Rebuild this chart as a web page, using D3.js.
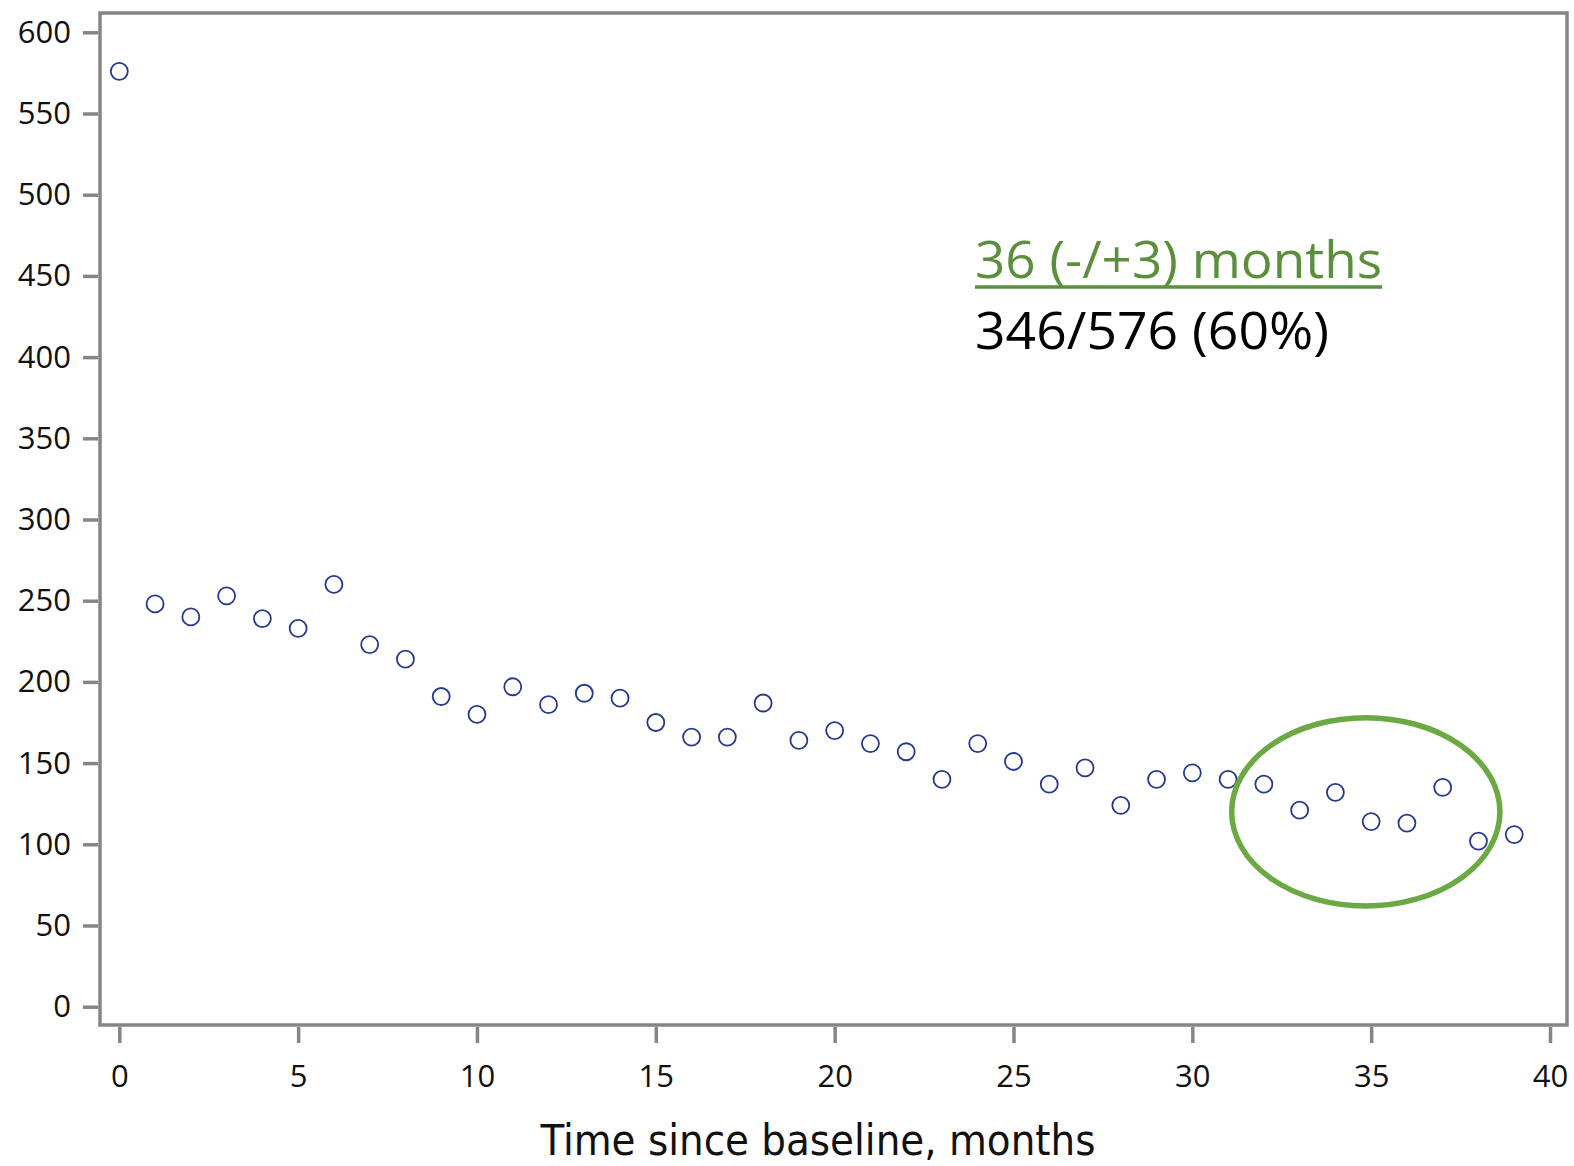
<!DOCTYPE html>
<html>
<head>
<meta charset="utf-8">
<script src="https://cdn.jsdelivr.net/npm/d3@7"></script>
<style>
  html, body { margin: 0; padding: 0; background: #fff; }
  svg { display: block; }
</style>
</head>
<body>
<div id="chart"></div>
<script>
const width = 1574;
const height = 1166;

// months since baseline and the count seen at each
const months = d3.range(0, 40);
const counts = [576, 248, 240, 253, 239, 233, 260, 223, 214, 191,
                180, 197, 186, 193, 190, 175, 166, 166, 187, 164,
                170, 162, 157, 140, 162, 151, 137, 147, 124, 140,
                144, 140, 137, 121, 132, 114, 113, 135, 102, 106];
const xTicks = [0, 5, 10, 15, 20, 25, 30, 35, 40];
const yTicks = d3.range(0, 601, 50);
const noteTitle = '36 (-/+3) months';
const noteText = '346/576 (60%)';
// the window that is circled, in months and counts
const windowMonths = [31.1, 38.6];
const windowCounts = [178, 62];

const frame = { left: 100, right: 1567, top: 13, bottom: 1025 };

const x = d3.scaleLinear().domain([0, 40]).range([119.3, 1550]);
const y = d3.scaleLinear().domain([0, 600]).range([1006.7, 32.3]);

const svg = d3.select('#chart').append('svg')
  .attr('width', width)
  .attr('height', height);

const grey = '#858585';

svg.append('rect')
  .attr('x', frame.left)
  .attr('y', frame.top)
  .attr('width', frame.right - frame.left)
  .attr('height', frame.bottom - frame.top)
  .attr('fill', 'none')
  .attr('stroke', grey)
  .attr('stroke-width', 3.5);

const yAxis = svg.append('g')
  .attr('transform', `translate(${frame.left - 2},0)`)
  .call(d3.axisLeft(y).tickValues(yTicks).tickSize(15).tickPadding(12));

const xAxis = svg.append('g')
  .attr('transform', `translate(0,${frame.bottom + 2})`)
  .call(d3.axisBottom(x).tickValues(xTicks).tickSize(16).tickPadding(22));

[xAxis, yAxis].forEach(a => {
  a.select('.domain').remove();
  a.selectAll('line').attr('stroke', grey).attr('stroke-width', 3.5);
  a.selectAll('text')
    .attr('fill', '#111')
    .style('font-family', '"Open Sans", "Noto Sans", sans-serif')
    .style('font-size', '31px');
});

svg.append('text')
  .attr('x', 818)
  .attr('y', 1155)
  .attr('text-anchor', 'middle')
  .attr('textLength', 555)
  .attr('lengthAdjust', 'spacingAndGlyphs')
  .style('font-family', '"DejaVu Sans Condensed", "DejaVu Sans", sans-serif')
  .style('font-size', '42px')
  .attr('fill', '#111')
  .text('Time since baseline, months');

// observed points
svg.append('g')
  .selectAll('circle')
  .data(months)
  .join('circle')
  .attr('cx', d => x(d))
  .attr('cy', (d, i) => y(counts[i]))
  .attr('r', 8.5)
  .attr('fill', 'none')
  .attr('stroke', '#26398f')
  .attr('stroke-width', 1.8);

// highlighted window
svg.append('ellipse')
  .attr('cx', (x(windowMonths[0]) + x(windowMonths[1])) / 2)
  .attr('cy', (y(windowCounts[0]) + y(windowCounts[1])) / 2)
  .attr('rx', (x(windowMonths[1]) - x(windowMonths[0])) / 2)
  .attr('ry', (y(windowCounts[1]) - y(windowCounts[0])) / 2)
  .attr('fill', 'none')
  .attr('stroke', '#6aa943')
  .attr('stroke-width', 5.5);

const note = svg.append('g')
  .style('font-family', '"Open Sans", "Noto Sans", sans-serif');

const title = note.append('text')
  .attr('x', 975)
  .attr('y', 278)
  .attr('fill', '#5b8f3c')
  .attr('textLength', 407)
  .attr('lengthAdjust', 'spacingAndGlyphs')
  .style('font-size', '52px')
  .text(noteTitle);

note.append('line')
  .attr('x1', 975)
  .attr('x2', 975 + 407)
  .attr('y1', 287)
  .attr('y2', 287)
  .attr('stroke', '#5b8f3c')
  .attr('stroke-width', 3.5);

note.append('text')
  .attr('x', 975)
  .attr('y', 349)
  .attr('fill', '#000')
  .attr('textLength', 354)
  .attr('lengthAdjust', 'spacingAndGlyphs')
  .style('font-size', '52px')
  .text(noteText);
</script>
</body>
</html>
